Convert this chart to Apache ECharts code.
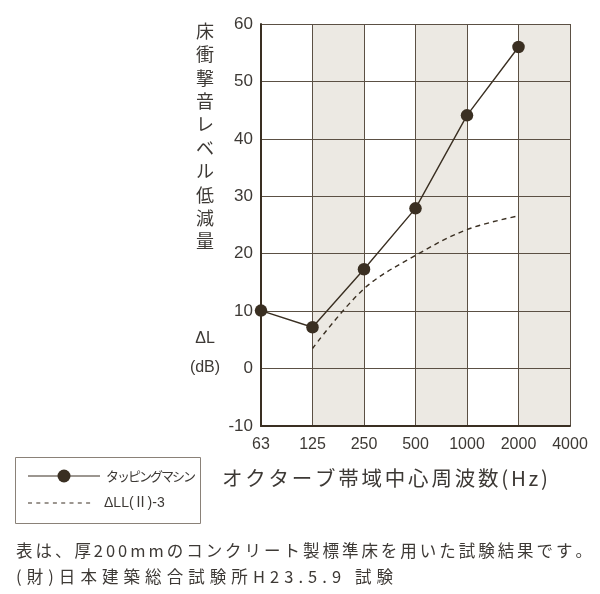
<!DOCTYPE html>
<html>
<head>
<meta charset="utf-8">
<script src="https://cdn.jsdelivr.net/npm/echarts@6/dist/echarts.min.js"></script>
<style>html,body{margin:0;padding:0;background:#fff}#c{width:600px;height:594px}</style>
</head>
<body>
<div id="c"></div>
<script>
// ---- data ----
const categories = ['63', '125', '250', '500', '1000', '2000', '4000'];
const tappingValues = [10.1, 7.2, 17.3, 27.9, 44.1, 56.0, null];
const dllValues = [null, 3.5, 13.9, 19.7, 24.2, 26.6, null];
const yTicks = [-10, 0, 10, 20, 30, 40, 50, 60];
const shadedBands = [['125', '250'], ['500', '1000'], ['2000', '4000']];
const seriesNames = ['タッピングマシン', 'ΔLL(Ⅱ)-3'];
const yTitleChars = '床衝撃音レベル低減量';
const xTitle = 'オクターブ帯域中心周波数(Hz)';
const noteLines = ['表は、厚200mmのコンクリート製標準床を用いた試験結果です。', '(財)日本建築総合試験所H23.5.9 試験'];

const INK = '#3a2f22';
const TXT = '#3d3935';
const GRID = '#5b5044';
const JP = '"Noto Sans CJK JP", "Noto Sans", sans-serif';
const NUM = '"Liberation Sans", Arial, sans-serif';

const mctx = document.createElement('canvas').getContext('2d');
function fitText(str, x0, x1, y, size, family) {
  mctx.font = size + 'px ' + family;
  const chars = Array.from(str);
  const widths = chars.map(c => mctx.measureText(c).width);
  const total = widths.reduce((a, b) => a + b, 0);
  const gap = chars.length > 1 ? ((x1 - x0) - total) / (chars.length - 1) : 0;
  let x = x0;
  const out = [];
  chars.forEach((c, i) => {
    out.push({type: 'text', x: x, y: y, silent: true,
      style: {text: c, fontSize: size, fontFamily: family, fill: TXT,
        textAlign: 'left', textVerticalAlign: 'middle', align: 'left', verticalAlign: 'middle'}});
    x += widths[i] + gap;
  });
  return out;
}
function txt(s, x, y, size, family, align) {
  return {type: 'text', x: x, y: y, silent: true,
    style: {text: s, fontSize: size, fontFamily: family, fill: TXT,
      textAlign: align || 'left', textVerticalAlign: 'middle', align: align || 'left', verticalAlign: 'middle'}};
}

const graphics = [];
// vertical y-axis title
Array.from(yTitleChars).forEach((c, i) => {
  graphics.push(txt(c, 205, 31 + i * 23.4, 18, JP, 'center'));
});
graphics.push(txt('ΔL', 205, 339, 16, NUM, 'center'));
graphics.push(txt('(dB)', 205, 368, 16, NUM, 'center'));
// x-axis title
graphics.push(...fitText(xTitle, 222, 548, 478, 20.5, JP));
// legend box
graphics.push({type: 'rect', shape: {x: 15.5, y: 457.5, width: 185, height: 66}, silent: true,
  style: {fill: 'none', stroke: '#8a8178', lineWidth: 1}});
graphics.push({type: 'line', shape: {x1: 28, y1: 476, x2: 100, y2: 476}, silent: true,
  style: {stroke: INK, lineWidth: 1.2}});
graphics.push({type: 'circle', shape: {cx: 64, cy: 476, r: 6.5}, silent: true, style: {fill: INK}});
graphics.push({type: 'line', shape: {x1: 28, y1: 503, x2: 92, y2: 503}, silent: true,
  style: {stroke: INK, lineWidth: 1.1, lineDash: [4, 4.3]}});
graphics.push(...fitText(seriesNames[0], 106, 196, 476, 13, JP));
graphics.push(txt(seriesNames[1], 104, 503, 14, NUM + ', ' + JP, 'left'));
// notes
graphics.push(...fitText(noteLines[0], 16, 592, 551, 16.5, JP));
graphics.push(...fitText(noteLines[1], 16, 393, 577, 16.5, JP));

const chart = echarts.init(document.getElementById('c'), null, {renderer: 'canvas'});
chart.setOption({
  animation: false,
  backgroundColor: '#ffffff',
  grid: {left: 261, right: 30, top: 24, bottom: 168},
  xAxis: {
    type: 'category', data: categories, boundaryGap: false, z: 2,
    axisLine: {show: true, onZero: false, lineStyle: {color: INK, width: 2}},
    axisTick: {show: false},
    splitLine: {show: true, lineStyle: {color: GRID, width: 1}},
    axisLabel: {color: TXT, fontSize: 16, fontFamily: NUM, margin: 11, showMinLabel: true, showMaxLabel: true, interval: 0}
  },
  yAxis: {
    type: 'value', min: -10, max: 60, interval: 10, z: 2,
    axisLine: {show: true, onZero: false, lineStyle: {color: INK, width: 2}},
    axisTick: {show: false},
    splitLine: {show: true, lineStyle: {color: GRID, width: 1}},
    axisLabel: {color: TXT, fontSize: 17, fontFamily: NUM, margin: 8,
      formatter: v => yTicks.indexOf(v) >= 0 ? String(v) : ''}
  },
  series: [
    {
      name: 'bands', type: 'line', data: [], z: 0, silent: true,
      markArea: {silent: true, itemStyle: {color: '#ece9e3'},
        data: shadedBands.map(b => [{xAxis: b[0]}, {xAxis: b[1]}])}
    },
    {
      name: seriesNames[1], type: 'line', data: dllValues, smooth: 0.35,
      showSymbol: false, symbol: 'none', z: 3,
      lineStyle: {color: INK, width: 1.4, type: [5, 4]}
    },
    {
      name: seriesNames[0], type: 'line', data: tappingValues, z: 4,
      symbol: 'circle', symbolSize: 12.5, showAllSymbol: true,
      lineStyle: {color: INK, width: 1.4}, itemStyle: {color: INK}
    }
  ],
  graphic: graphics
});
</script>
</body>
</html>
